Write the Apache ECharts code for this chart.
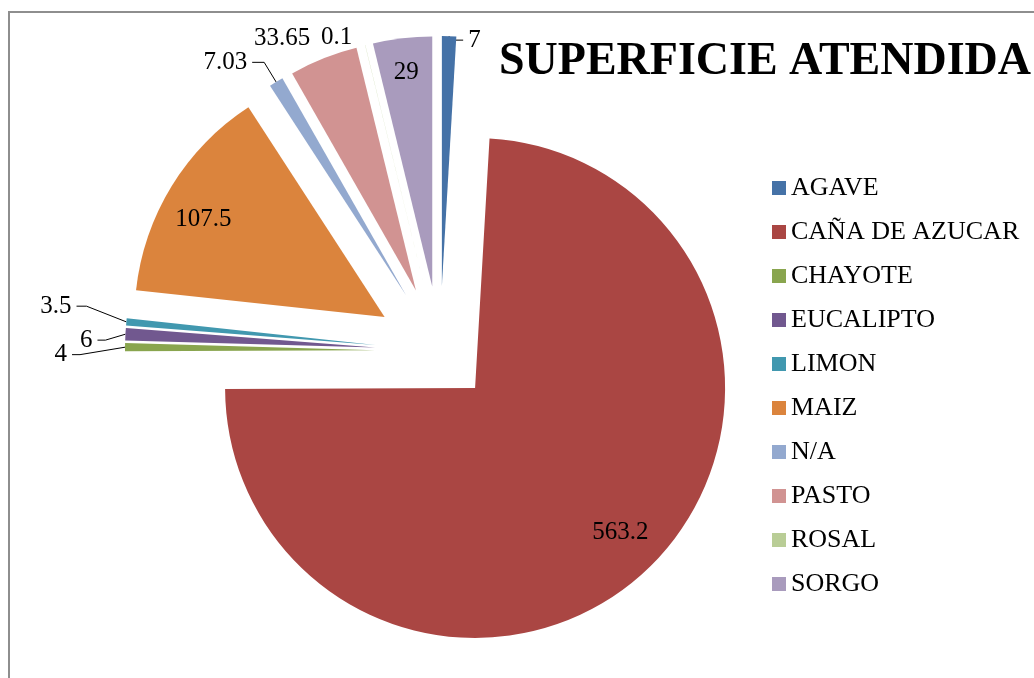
<!DOCTYPE html>
<html>
<head>
<meta charset="utf-8">
<script src="https://cdn.jsdelivr.net/npm/echarts@6/dist/echarts.min.js"></script>
<style>
  html, body { margin: 0; padding: 0; background: #fff; }
  #chart { width: 1034px; height: 678px; }
</style>
</head>
<body>
<div id="chart"></div>
<script>
// data
var categories = ['AGAVE', 'CAÑA DE AZUCAR', 'CHAYOTE', 'EUCALIPTO', 'LIMON', 'MAIZ', 'N/A', 'PASTO', 'ROSAL', 'SORGO'];
var values = [7, 563.2, 4, 6, 3.5, 107.5, 7.03, 33.65, 0.1, 29];
var colors = ['#4572A7', '#AA4643', '#89A54E', '#71588F', '#4198AF', '#DB843D', '#93A9CF', '#D19392', '#B9CD96', '#A99BBD'];

// which pie layer draws each slice (each layer has its own explode distance)
var groupOf = ['top', 'main', 'top', 'top', 'top', 'top', 'top', 'top', 'top', 'top'];

var SERIF = '"Liberation Serif", "Times New Roman", serif';
var R = 250;
var CENTER = [440, 351];

var total = values.reduce(function (a, b) { return a + b; }, 0);
var midAngle = [];
var acc = 0;
values.forEach(function (v) {
    midAngle.push((acc + v / 2) / total * 2 * Math.PI);
    acc += v;
});

// label placement for each slice
var insideFrac = [0, 0.81, 0, 0, 0, 0.82, 0, 0, 0, 0.86];
var lineLen = [2, 0, 45, 20, 40, 0, 23, 22, 8, 0];
var lineLen2 = [14, 0, 8, 8, 10, 0, 12, 0, 6, 0];
var showLine = [true, false, true, true, true, false, true, false, false, false];
var nudgeX = [0, 4, 0, 0, 0, -4, 0, 0, 0, 0];
var nudgeY = [6, -5, 8, 7, -12, 11, 0, 0, 0, 2];

function layoutLabel(p) {
    var i = p.dataIndex;
    var dx = nudgeX[i];
    var dy = nudgeY[i];
    if (insideFrac[i]) {
        var s = (insideFrac[i] - 0.5) * R;
        return {dx: Math.sin(midAngle[i]) * s + dx, dy: -Math.cos(midAngle[i]) * s + dy};
    }
    var res = {dx: dx, dy: dy};
    var pts = p.labelLinePoints;
    if (pts && showLine[i]) {
        res.labelLinePoints = pts.map(function (pt, k) {
            return k === 0 ? [pt[0], pt[1]] : [pt[0] + dx, pt[1] + dy];
        });
    }
    return res;
}

function makeSeries(group, offset) {
    return {
        type: 'pie',
        center: CENTER,
        radius: R,
        startAngle: 90,
        clockwise: true,
        selectedMode: 'multiple',
        selectedOffset: offset,
        avoidLabelOverlap: false,
        emphasis: {disabled: true},
        label: {
            color: '#000',
            fontFamily: SERIF,
            fontSize: 25,
            formatter: '{c}'
        },
        labelLine: {lineStyle: {color: '#000', width: 1}},
        labelLayout: layoutLabel,
        data: categories.map(function (name, i) {
            var own = groupOf[i] === group;
            var item = {
                name: name,
                value: values[i],
                selected: own,
                itemStyle: {color: colors[i], opacity: own ? 1 : 0}
            };
            if (!own) {
                item.label = {show: false};
                item.labelLine = {show: false};
            } else if (insideFrac[i]) {
                item.label = {position: 'inside'};
                item.labelLine = {show: false};
            } else {
                item.label = {position: 'outside'};
                item.labelLine = {show: showLine[i], length: lineLen[i], length2: lineLen2[i]};
            }
            return item;
        })
    };
}

var myChart = echarts.init(document.getElementById('chart'));

var option = {
    animation: false,
    backgroundColor: '#fff',
    title: {
        text: 'SUPERFICIE ATENDIDA',
        left: 499,
        top: 39,
        padding: 0,
        textStyle: {fontFamily: SERIF, fontSize: 46, fontWeight: 'bold', color: '#000'}
    },
    legend: {
        orient: 'vertical',
        left: 772,
        top: 173,
        padding: 0,
        icon: 'rect',
        itemWidth: 14,
        itemHeight: 14,
        itemGap: 14,
        textStyle: {fontFamily: SERIF, fontSize: 26, color: '#000', lineHeight: 30},
        data: categories.map(function (name, i) {
            return {name: name, itemStyle: {color: colors[i], opacity: 1}};
        })
    },
    graphic: [{
        type: 'rect',
        shape: {x: 9, y: 12, width: 1100, height: 700},
        style: {fill: 'none', stroke: '#8e8e8e', lineWidth: 2},
        silent: true
    }],
    series: [
        makeSeries('main', 51),
        makeSeries('top', 65)
    ]
};

myChart.setOption(option);
</script>
</body>
</html>
